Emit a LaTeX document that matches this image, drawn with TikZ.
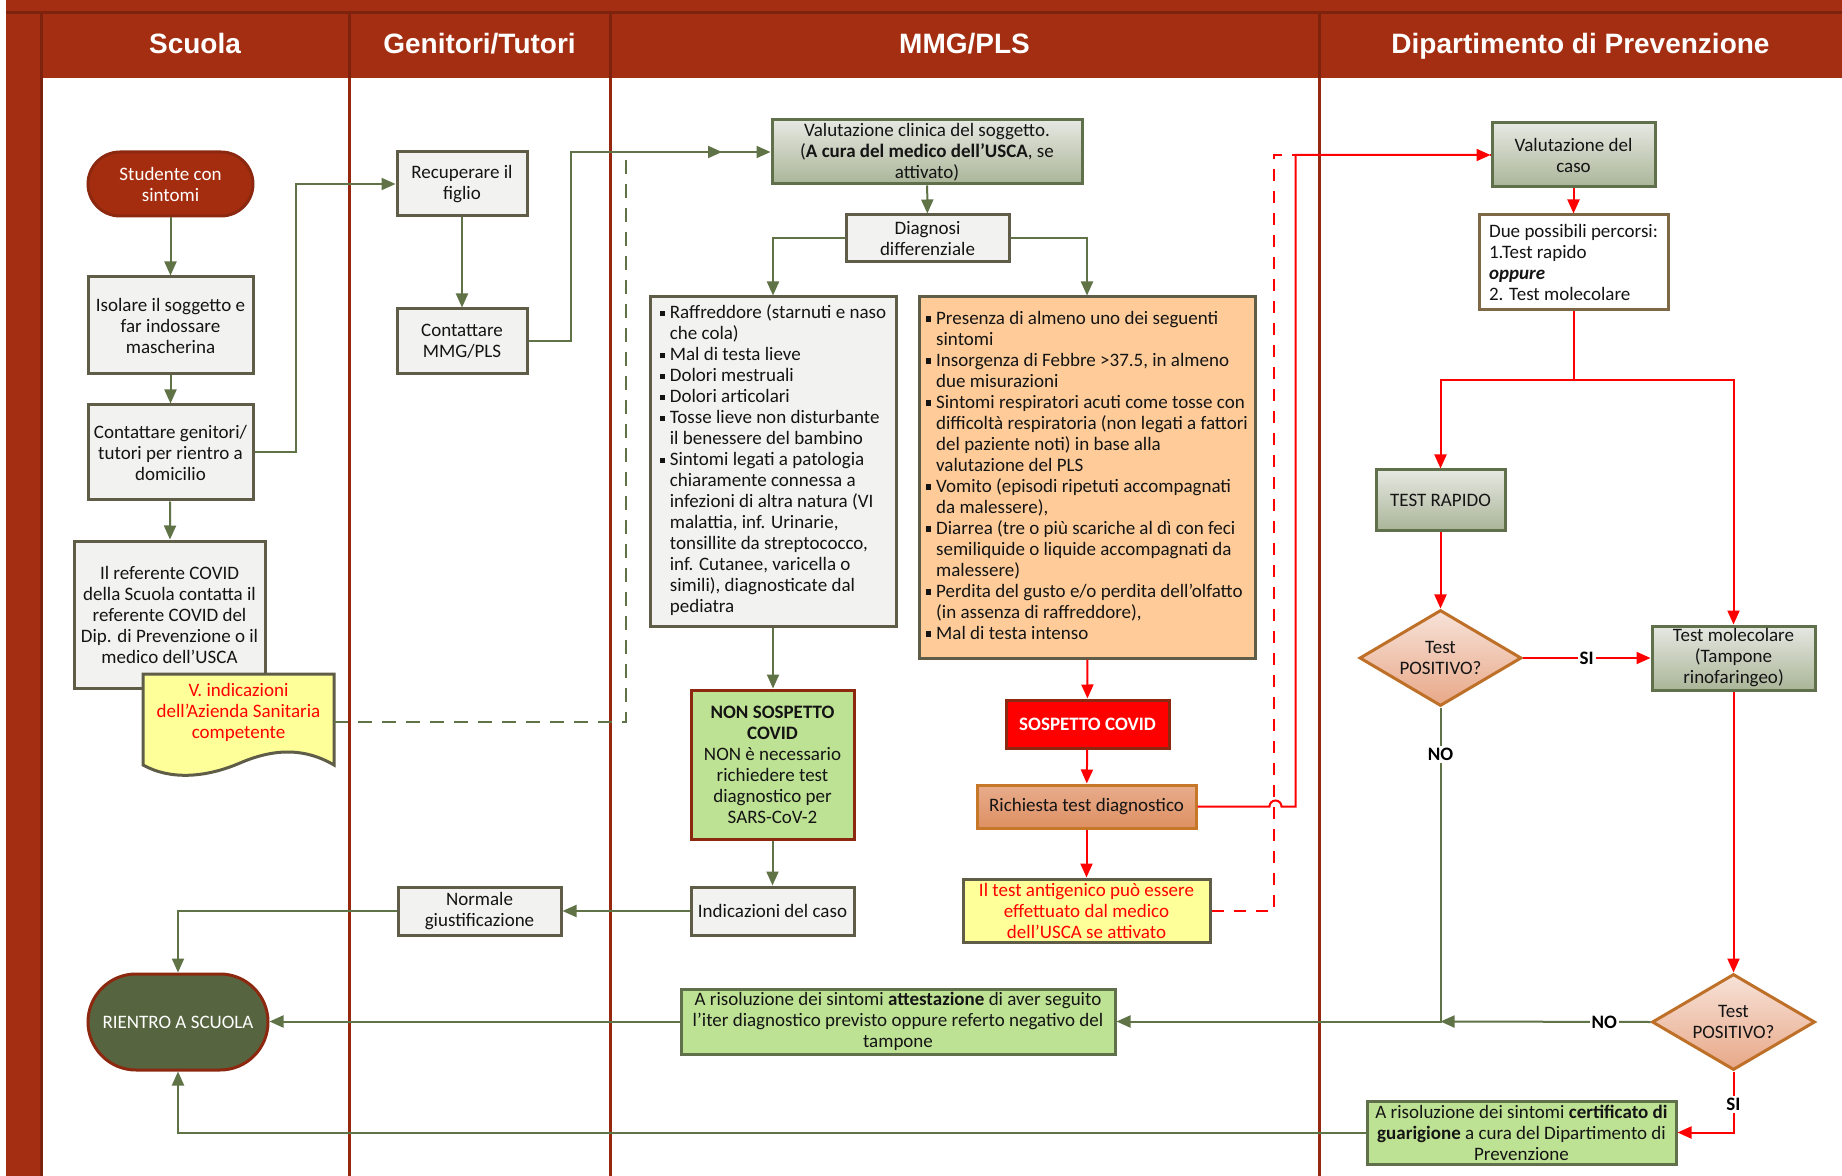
\documentclass[tikz,border=0pt]{standalone}
\usepackage{fontspec}
\setmainfont{Carlito}
\newfontfamily\hdrfont{Liberation Sans}
\usetikzlibrary{arrows.meta,shapes.geometric}
\definecolor{hdrred}{RGB}{164,46,17}
\definecolor{hdrdark}{RGB}{125,34,12}
\definecolor{lanecol}{RGB}{150,40,16}
\definecolor{conngreen}{RGB}{95,115,70}
\definecolor{boxgray}{RGB}{95,93,72}
\definecolor{grayfill}{RGB}{242,242,240}
\definecolor{gtop}{RGB}{230,232,226}
\definecolor{gbot}{RGB}{170,181,152}
\definecolor{gborder}{RGB}{96,112,74}
\definecolor{diatop}{RGB}{247,226,216}
\definecolor{diabot}{RGB}{232,168,136}
\definecolor{diaborder}{RGB}{190,112,40}
\definecolor{orfill}{RGB}{255,204,153}
\definecolor{lgreen}{RGB}{190,226,148}
\definecolor{yel}{RGB}{255,255,153}
\definecolor{richtop}{RGB}{232,172,140}
\definecolor{richbot}{RGB}{222,144,98}
\definecolor{richborder}{RGB}{198,120,40}
\definecolor{rientfill}{RGB}{86,101,64}
\definecolor{darkred}{RGB}{140,40,15}
\definecolor{studred}{RGB}{165,45,15}
\definecolor{dppborder}{RGB}{127,104,70}
\definecolor{txt}{RGB}{20,20,20}
\newcommand{\bodyfs}{\fontsize{9.5}{10.5}\selectfont}
\newcommand{\bq}{\makebox[5pt][l]{\raisebox{1.3pt}{\rule{2.6pt}{2.6pt}}}}
\begin{document}
\begin{tikzpicture}[x=0.5pt,y=-0.5pt,
  hdr/.style={text=white, anchor=base, font=\hdrfont\bfseries\fontsize{14}{16}\selectfont},
  sz/.style 2 args={minimum width=#1, minimum height=#2},
  bx/.style={draw=boxgray, line width=1.5pt, align=center, inner sep=1pt, font=\bodyfs, text=txt},
  grayb/.style={bx, fill=grayfill},
  gradb/.style={bx, draw=gborder, top color=gtop, bottom color=gbot},
  greenb/.style={bx, draw=gborder, fill=lgreen},
  dia/.style={diamond, draw=diaborder, line width=1.5pt, top color=diatop, bottom color=diabot, inner sep=0pt},
  dtxt/.style={align=center, font=\bodyfs, text=txt, inner sep=0pt},
  gconn/.style={draw=conngreen, line width=1pt, -{Triangle[length=7pt,width=6pt]}},
  gdash/.style={draw=conngreen, line width=1pt, dash pattern=on 7pt off 5pt, -{Triangle[length=7pt,width=6pt]}},
  rconn/.style={draw=red, line width=1pt, -{Triangle[length=7pt,width=6pt]}},
  rdash/.style={draw=red, line width=1pt, dash pattern=on 6pt off 5pt},
  lbl/.style={fill=white, inner sep=1pt, font=\bfseries\fontsize{9.5}{10}\selectfont, text=black},
  lane/.style={draw=lanecol, line width=1.5pt}
]
\useasboundingbox (0,0) rectangle (1842,1176);
% frame
\fill[white] (0,0) rectangle (1842,1176);
\fill[hdrred] (6,0) rectangle (1842,78);
\fill[hdrred] (6,0) rectangle (41,1176);
\draw[hdrdark, line width=1.5pt] (6,13) -- (1842,13);
\draw[hdrdark, line width=1.5pt] (41,13) -- (41,1176);
\foreach \xx in {349,610,1319}{
  \draw[hdrdark, line width=1.5pt] (\xx,13) -- (\xx,78);
  \draw[lane] (\xx,78) -- (\xx,1176);
}
\node[hdr] (h1) at (195,54) {Scuola};
\node[hdr] (h2) at (479.5,54) {Genitori/Tutori};
\node[hdr] (h3) at (964.5,54) {MMG/PLS};
\node[hdr] (h4) at (1580.5,54) {Dipartimento di Prevenzione};

% Scuola lane
\node[bx, draw=darkred, fill=studred, text=white, rounded corners=16pt, sz={82.5pt}{32pt}] (stud) at (170.5,184) {Studente con\\sintomi};
\node[grayb, sz={82.5pt}{48.5pt}] (iso) at (170.5,325.5) {Isolare il soggetto e\\far indossare\\mascherina};
\node[grayb, sz={82.5pt}{47.5pt}] (contg) at (170.5,452.5) {Contattare genitori/\\tutori per rientro a\\domicilio};
\node[grayb, sz={95.5pt}{73.5pt}] (ref) at (169.5,614.5) {Il referente COVID\\della Scuola contatta il\\referente COVID del\\Dip. di Prevenzione o il\\medico dell’USCA};
\draw[draw=boxgray, line width=1.5pt, fill=yel] (143,674) -- (334,674) -- (334,765) .. controls (305,748) and (275,748) .. (240,763) .. controls (205,778) and (170,780) .. (143,765) -- cycle;
\node[dtxt, text=red, sz={95.5pt}{38pt}] (doc) at (238.5,712) {V. indicazioni\\dell’Azienda Sanitaria\\competente};
\node[bx, draw=darkred, fill=rientfill, text=white, rounded corners=24pt, sz={90pt}{48pt}] (rient) at (178,1022) {RIENTRO A SCUOLA};

% Genitori lane
\node[grayb, sz={65pt}{32pt}] (recu) at (462,184) {Recuperare il\\figlio};
\node[grayb, sz={65pt}{32.5pt}] (contm) at (462,341.5) {Contattare\\MMG/PLS};
\node[grayb, sz={81.5pt}{24pt}] (norm) at (479.5,911) {Normale\\giustificazione};

% MMG lane
\node[gradb, sz={155pt}{32pt}] (vcl) at (927,152) {Valutazione clinica del soggetto.\\(\textbf{A cura del medico dell’USCA}, se\\attivato)};
\node[grayb, sz={81.5pt}{23.5pt}] (diag) at (927.5,238.5) {Diagnosi\\differenziale};
\node[grayb, sz={123pt}{164.5pt}] (llist) at (773,461.5) {\begin{tabular}{@{}l@{}l@{}}
\bq & Raffreddore (starnuti e naso\\
 & che cola)\\
\bq & Mal di testa lieve\\
\bq & Dolori mestruali\\
\bq & Dolori articolari\\
\bq & Tosse lieve non disturbante\\
 & il benessere del bambino\\
\bq & Sintomi legati a patologia\\
 & chiaramente connessa a\\
 & infezioni di altra natura (VI\\
 & malattia, inf. Urinarie,\\
 & tonsillite da streptococco,\\
 & inf. Cutanee, varicella o\\
 & simili), diagnosticate dal\\
 & pediatra
\end{tabular}};
\node[bx, fill=orfill, sz={168pt}{180.5pt}] (olist) at (1087,477.5) {\begin{tabular}{@{}l@{}l@{}}
\bq & Presenza di almeno uno dei seguenti\\
 & sintomi\\
\bq & Insorgenza di Febbre >37.5, in almeno\\
 & due misurazioni\\
\bq & Sintomi respiratori acuti come tosse con\\
 & difficoltà respiratoria (non legati a fattori\\
 & del paziente noti) in base alla\\
 & valutazione del PLS\\
\bq & Vomito (episodi ripetuti accompagnati\\
 & da malessere),\\
\bq & Diarrea (tre o più scariche al dì con feci\\
 & semiliquide o liquide accompagnati da\\
 & malessere)\\
\bq & Perdita del gusto e/o perdita dell’olfatto\\
 & (in assenza di raffreddore),\\
\bq & Mal di testa intenso
\end{tabular}};
\node[bx, draw=darkred, fill=lgreen, sz={81.5pt}{74.5pt}] (nons) at (772.5,764.5) {\textbf{NON SOSPETTO}\\\textbf{COVID}\\NON è necessario\\richiedere test\\diagnostico per\\SARS-CoV-2};
\node[grayb, sz={81.5pt}{24pt}] (indc) at (772.5,911) {Indicazioni del caso};
\node[bx, draw=darkred, fill=red, text=white, font=\bodyfs\bfseries, sz={81.5pt}{24pt}] (sosp) at (1087.5,724) {SOSPETTO COVID};
\node[bx, draw=richborder, top color=richtop, bottom color=richbot, sz={109.5pt}{21.5pt}] (rich) at (1086.5,806.5) {Richiesta test diagnostico};
\node[bx, fill=yel, text=red, sz={123.5pt}{31.5pt}] (ant) at (1086.5,910.5) {Il test antigenico può essere\\effettuato dal medico\\dell’USCA se attivato};
\node[greenb, sz={217pt}{32.5pt}] (att) at (898,1021.5) {A risoluzione dei sintomi \textbf{attestazione} di aver seguito\\l’iter diagnostico previsto oppure referto negativo del\\tampone};
\coordinate (dashend) at (722,152);

% Dipartimento lane
\node[gradb, sz={81.5pt}{32pt}] (vdc) at (1573.5,155) {Valutazione del\\caso};
\node[bx, draw=dppborder, fill=white, align=left, inner sep=3pt, sz={94.5pt}{47.5pt}] (dpp) at (1573.5,262.5) {Due possibili percorsi:\\1.Test rapido\\\textbf{\textit{oppure}}\\2. Test molecolare};
\node[gradb, sz={64.5pt}{30pt}] (trap) at (1440.5,500) {TEST RAPIDO};
\node[dia, sz={81pt}{48pt}] (d1) at (1440.5,658) {};
\node[dtxt] (d1t) at (d1) {Test\\POSITIVO?};
\node[gradb, sz={81.5pt}{32pt}] (tmol) at (1733.5,658) {Test molecolare\\(Tampone\\rinofaringeo)};
\node[dia, sz={81.5pt}{48pt}] (d2) at (1733.5,1022) {};
\node[dtxt] (d2t) at (d2) {Test\\POSITIVO?};
\node[greenb, sz={154.5pt}{31.5pt}] (cert) at (1521.5,1132.5) {A risoluzione dei sintomi \textbf{certificato di}\\\textbf{guarigione} a cura del Dipartimento di\\Prevenzione};
\coordinate (jn) at (d1.south |- att.east);

% green connectors
\draw[gconn] (stud) -- (iso);
\draw[gconn] (iso) -- (contg);
\draw[gconn] (contg) -- (ref);
\draw[gconn] (contg.east) -- ++(41,0) |- (recu.west);
\draw[gconn] (recu) -- (contm);
\draw[gconn] (contm.east) -- ++(42,0) |- (vcl.west);
\draw[gdash] ([yshift=-5pt]doc.east) -| (626,152) -- (dashend);
\draw[gconn] (vcl) -- (diag);
\draw[gconn] (diag.west) -| (llist.north);
\draw[gconn] (diag.east) -| (olist.north);
\draw[gconn] (llist.south) -- (llist.south |- nons.north);
\draw[gconn] (nons) -- (indc);
\draw[gconn] (indc) -- (norm);
\draw[gconn] (norm.west) -| (rient.north);
\draw[gconn] (att.west) -- (att.west -| rient.east);
\draw[gconn] (cert.west) -| (rient.south);
\draw[gconn] (d1.south) -- node[lbl, pos=0.15]{NO} (jn) -- (att.east);
\draw[gconn] (d2.west) -- node[lbl, pos=0.22]{NO} (jn);

% red connectors
\draw[rconn] (olist) -- (sosp);
\draw[rconn] (sosp) -- (rich);
\draw[rconn] (rich) -- (ant);
\draw[rdash] (ant.east) -| (1274,155) -- (vdc.west);
\draw[rconn] (rich.east) -- ++(72,0) arc[start angle=180, end angle=0, radius=3pt] -- ++(14,0) |- (vdc.west);
\draw[rconn] (vdc) -- (dpp);
\draw[rconn] (dpp.south) -- ++(0,69) -| (trap.north);
\draw[rconn] (dpp.south) -- ++(0,69) -| (tmol.north);
\draw[rconn] (trap) -- (d1);
\draw[rconn] (d1.east) -- node[lbl]{SI} (tmol.west);
\draw[rconn] (tmol) -- (d2);
\draw[rconn] (d2.south) |- node[lbl, pos=0.27]{SI} (cert.east);
\end{tikzpicture}
\end{document}
